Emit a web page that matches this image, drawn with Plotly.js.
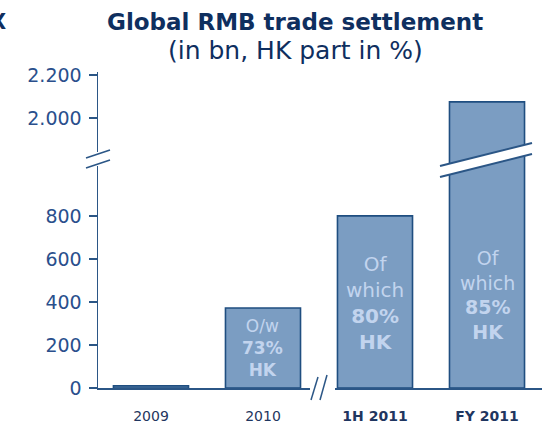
<!DOCTYPE html>
<html><head><meta charset="utf-8">
<script src="https://cdn.plot.ly/plotly-3.0.1.min.js"></script>
<style>html,body{margin:0;padding:0;background:#fff}</style>
</head><body><div id="chart" style="width:548px;height:425px"></div>
<script>
// ---- data ----
const categories = ['2009', '2010', '1H 2011', 'FY 2011'];
const categoryLabels = ['2009', '2010', '<b>1H 2011</b>', '<b>FY 2011</b>'];
const settlementBn = [10, 372, 800, 2075];
const hkShareText = ['', 'O/w<br><b>73%</b><br><b>HK</b>', 'Of<br>which<br><b>80%</b><br><b>HK</b>', 'Of<br>which<br><b>85%</b><br><b>HK</b>'];
const lowerTicks = [0, 200, 400, 600, 800];
const lowerTickLabels = ['0', '200', '400', '600', '800'];
const upperTicks = [2000, 2200];
const upperTickLabels = ['2.000', '2.200'];

// ---- style ----
const FONT = 'DejaVu Sans, Verdana, sans-serif';
const barFill = '#7b9dc2';
const barEdge = '#1f4e80';
const axisCol = '#2b5686';
const tickCol = '#2a4f8c';
const titleCol = '#0f2f5f';
const inBarCol = '#c2d4ee';

const W = 548, H = 425, ML = 98, MR = 6, MT = 72, MB = 37;
const PW = W - ML - MR, PH = H - MT - MB;
const px = x => (x - ML) / PW;          // pixel -> paper x
const py = y => (H - MB - y) / PH;      // pixel -> paper y
const split = py(160);

const barTrace = (yaxis) => ({
  type: 'bar', x: categories, y: settlementBn, yaxis: yaxis, xaxis: 'x',
  width: 0.67, hoverinfo: 'none',
  marker: {color: barFill, line: {color: barEdge, width: 1.6}}
});

const textY = [null, 186, 393, 432];
const textSize = [0, 17, 20, 19];
const annotations = [];
categories.forEach((c, i) => {
  if (!hkShareText[i]) return;
  annotations.push({xref: 'x', yref: 'y', x: i, y: textY[i], text: hkShareText[i],
    showarrow: false, font: {family: FONT, size: textSize[i], color: inBarCol}, align: 'center'});
});
annotations.push({xref: 'paper', yref: 'paper', x: px(295), y: py(22), text: '<b>Global RMB trade settlement</b>',
  showarrow: false, font: {family: FONT, size: 23, color: titleCol}, xanchor: 'center', yanchor: 'middle'});
annotations.push({xref: 'paper', yref: 'paper', x: px(295), y: py(50), text: '(in bn, HK part in %)',
  showarrow: false, font: {family: FONT, size: 25, color: titleCol}, xanchor: 'center', yanchor: 'middle'});
annotations.push({xref: 'paper', yref: 'paper', x: px(-2), y: py(22), text: '<b>X</b>',
  showarrow: false, font: {family: FONT, size: 21, color: titleCol}, xanchor: 'center', yanchor: 'middle'});

const line = (x0, y0, x1, y1, w) => ({type: 'line', xref: 'paper', yref: 'paper',
  x0: px(x0), y0: py(y0), x1: px(x1), y1: py(y1), line: {color: axisCol, width: w || 1.5}, layer: 'above'});
const rect = (x0, y0, x1, y1) => ({type: 'rect', xref: 'paper', yref: 'paper',
  x0: px(x0), y0: py(y0), x1: px(x1), y1: py(y1), fillcolor: '#ffffff', line: {width: 0}, layer: 'above'});

const shapes = [
  // y-axis break
  rect(93, 152, 103, 166),
  line(86, 158, 110, 150), line(86, 168, 110, 160),
  // x-axis break
  rect(310, 384, 335, 392),
  line(311, 400, 318, 377), line(320, 400, 327, 375),
  // FY bar break
  {type: 'path', xref: 'paper', yref: 'paper', layer: 'above',
   path: `M ${px(440)},${py(166)} L ${px(532)},${py(143)} L ${px(532)},${py(154)} L ${px(440)},${py(177)} Z`,
   fillcolor: '#ffffff', line: {width: 0}},
  line(440, 166, 532, 143, 2), line(440, 177, 532, 154, 2)
];

const yCommon = {
  showline: true, linecolor: axisCol, linewidth: 1.5, ticks: 'outside', ticklen: 8,
  tickwidth: 1.5, tickcolor: axisCol, showgrid: false, zeroline: false, anchor: 'x',
  tickfont: {family: FONT, size: 19, color: tickCol}, ticklabelstandoff: 3, fixedrange: true
};

const layout = {
  width: W, height: H, margin: {l: ML, r: MR, t: MT, b: MB},
  paper_bgcolor: '#fff', plot_bgcolor: '#fff', showlegend: false,
  xaxis: {type: 'category', range: [-0.473, 3.491], showline: true, linecolor: axisCol, linewidth: 1.5,
    ticks: '', tickvals: categories, ticktext: categoryLabels, showgrid: false, zeroline: false,
    tickfont: {family: FONT, size: 14, color: '#1f3660'}, anchor: 'y', ticklabelstandoff: 15},
  yaxis: Object.assign({}, yCommon, {domain: [0, split], range: [0, 1060], tickvals: lowerTicks, ticktext: lowerTickLabels}),
  yaxis2: Object.assign({}, yCommon, {domain: [split, 1], range: [1805, 2214], tickvals: upperTicks, ticktext: upperTickLabels}),
  annotations: annotations, shapes: shapes
};

Plotly.newPlot('chart', [barTrace('y'), barTrace('y2')], layout, {staticPlot: true, displayModeBar: false});
</script></body></html>
